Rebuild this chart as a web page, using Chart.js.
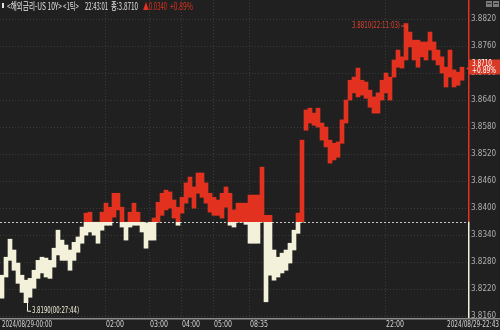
<!DOCTYPE html>
<html lang="ko">
<head>
  <meta charset="UTF-8" />
  <title>US 10Y tick chart</title>
  <script src="https://cdn.jsdelivr.net/npm/chart.js"></script>
  <style>
    body { margin: 0; background: #202020; }
    canvas { display: block; }
  </style>
</head>
<body>
  <canvas id="tickChart" width="500" height="330"></canvas>

  <script>
    // previous close (baseline) and last price
    const prevClose = 3.8370;
    const lastPrice = 3.8710;

    // high / low of each 4px tick bucket
    const highs = [
      3.8251, 3.8291, 3.8331, 3.8307, 3.8278, 3.8251, 3.8240, 3.8244, 3.8262, 3.8284,
      3.8291, 3.8289, 3.8284, 3.8311, 3.8351, 3.8329, 3.8318, 3.8307, 3.8324, 3.8336,
      3.8358, 3.8389, 3.8391, 3.8369, 3.8369, 3.8391, 3.8411, 3.8402, 3.8433, 3.8433,
      3.8402, 3.8369, 3.8391, 3.8411, 3.8391, 3.8369, 3.8367, 3.8369, 3.8378, 3.8413,
      3.8433, 3.8440, 3.8436, 3.8418, 3.8402, 3.8424, 3.8456, 3.8469, 3.8447, 3.8478,
      3.8478, 3.8456, 3.8433, 3.8424, 3.8418, 3.8433, 3.8447, 3.8433, 3.8396, 3.8411,
      3.8411, 3.8411, 3.8429, 3.8429, 3.8429, 3.8491, 3.8384, 3.8384, 3.8307, 3.8291,
      3.8300, 3.8307, 3.8322, 3.8351, 3.8389, 3.8551, 3.8618, 3.8622, 3.8611, 3.8622,
      3.8589, 3.8580, 3.8551, 3.8544, 3.8547, 3.8596, 3.8640, 3.8684, 3.8691, 3.8711,
      3.8684, 3.8680, 3.8662, 3.8647, 3.8656, 3.8684, 3.8700, 3.8691, 3.8729, 3.8751,
      3.8736, 3.8810, 3.8791, 3.8773, 3.8773, 3.8769, 3.8769, 3.8791, 3.8769, 3.8751,
      3.8736, 3.8713, 3.8751, 3.8707, 3.8702, 3.8713, null
    ];
    const lows = [
      3.8200, 3.8247, 3.8284, 3.8262, 3.8233, 3.8213, 3.8190, 3.8202, 3.8222, 3.8244,
      3.8256, 3.8247, 3.8244, 3.8269, 3.8296, 3.8284, 3.8284, 3.8262, 3.8284, 3.8302,
      3.8322, 3.8340, 3.8347, 3.8340, 3.8322, 3.8351, 3.8362, 3.8362, 3.8380, 3.8396,
      3.8358, 3.8329, 3.8358, 3.8362, 3.8362, 3.8347, 3.8311, 3.8329, 3.8329, 3.8369,
      3.8384, 3.8396, 3.8400, 3.8378, 3.8362, 3.8389, 3.8411, 3.8424, 3.8400, 3.8433,
      3.8424, 3.8411, 3.8391, 3.8384, 3.8384, 3.8378, 3.8402, 3.8362, 3.8358, 3.8369,
      3.8369, 3.8364, 3.8322, 3.8322, 3.8322, 3.8369, 3.8192, 3.8251, 3.8240, 3.8247,
      3.8256, 3.8262, 3.8278, 3.8307, 3.8344, 3.8369, 3.8573, 3.8589, 3.8584, 3.8580,
      3.8551, 3.8536, 3.8500, 3.8507, 3.8513, 3.8544, 3.8589, 3.8640, 3.8656, 3.8647,
      3.8651, 3.8644, 3.8624, 3.8611, 3.8611, 3.8640, 3.8656, 3.8640, 3.8691, 3.8713,
      3.8711, 3.8729, 3.8758, 3.8729, 3.8713, 3.8736, 3.8729, 3.8751, 3.8729, 3.8718,
      3.8700, 3.8669, 3.8691, 3.8669, 3.8673, 3.8684, null
    ];

    const yTicks = [3.8160, 3.8220, 3.8280, 3.8340, 3.8400, 3.8460, 3.8520,
                    3.8580, 3.8640, 3.8700, 3.8760, 3.8820];

    // time labels sit on the bucket where they start
    const timeIdx = [0, 26, 37, 45, 53, 62, 96];
    const timeText = ['2024/08/29-00:00', '02:00', '03:00', '04:00', '05:00', '08:35', '22:00'];
    const endText = '2024/08/29-22:43';

    const maxText = '3.8810(22:11:03)';
    const minText = '3.8190(00:27:44)';

    const RED = '#e2321f';
    const CREAM = '#f4f1da';
    const GRID = '#3a3a3a';
    const NARROW = '"Liberation Sans Narrow", "DejaVu Sans Condensed", sans-serif';

    let gradCache = null;
    function splitColor(ctx) {
      const chart = ctx.chart;
      const area = chart.chartArea;
      if (!area) return RED;
      const key = area.top + ':' + area.bottom;
      if (gradCache && gradCache.key === key) return gradCache.g;
      const yb = chart.scales.y.getPixelForValue(prevClose);
      const t = (yb - area.top) / (area.bottom - area.top);
      const g = chart.ctx.createLinearGradient(0, area.top, 0, area.bottom);
      g.addColorStop(0, RED);
      g.addColorStop(t, RED);
      g.addColorStop(t, CREAM);
      g.addColorStop(1, CREAM);
      gradCache = { key, g };
      return g;
    }

    const framePlugin = {
      id: 'frame',
      beforeDatasetsDraw(chart) {
        const { ctx, chartArea: a, scales: { x, y } } = chart;
        const colW = x.getPixelForValue(1) - x.getPixelForValue(0);
        ctx.save();
        ctx.lineWidth = 1;
        ctx.strokeStyle = GRID;
        ctx.setLineDash([1, 2]);
        yTicks.forEach(v => {
          const py = Math.round(y.getPixelForValue(v)) + 0.5;
          ctx.beginPath(); ctx.moveTo(a.left, py); ctx.lineTo(a.right, py); ctx.stroke();
        });
        timeIdx.slice(1).forEach(i => {
          const px = Math.round(x.getPixelForValue(i) - colW / 2) + 1.5;
          ctx.beginPath(); ctx.moveTo(px, a.top - 10); ctx.lineTo(px, a.bottom); ctx.stroke();
        });
        // previous close line
        ctx.strokeStyle = '#c8c8c8';
        ctx.setLineDash([2, 2]);
        const by = Math.round(y.getPixelForValue(prevClose)) + 0.5;
        ctx.beginPath(); ctx.moveTo(a.left, by); ctx.lineTo(a.right, by); ctx.stroke();
        ctx.restore();
      },
      afterDraw(chart) {
        const { ctx, chartArea: a, scales: { x, y } } = chart;
        const colW = x.getPixelForValue(1) - x.getPixelForValue(0);
        const by = y.getPixelForValue(prevClose);
        ctx.save();

        // right axis line, red above the close, cream below
        ctx.fillStyle = RED;
        ctx.fillRect(a.right, 0, 1.5, by);
        ctx.fillStyle = CREAM;
        ctx.fillRect(a.right, by, 1.5, a.bottom - by);

        // bottom axis
        ctx.fillStyle = '#8c8c8c';
        ctx.fillRect(0, a.bottom, chart.width, 1.5);

        // time labels
        ctx.font = '8px ' + NARROW;
        ctx.fillStyle = '#d4d4d4';
        ctx.textBaseline = 'top';
        ctx.textAlign = 'left';
        timeIdx.forEach((i, k) => {
          const px = x.getPixelForValue(i) - colW / 2 + 1;
          ctx.fillText(timeText[k], px + 1, a.bottom + 3, k === 0 ? 50 : 18);
        });
        ctx.textAlign = 'right';
        ctx.fillText(endText, chart.width - 1, a.bottom + 3, 52);

        // title line
        ctx.textBaseline = 'middle';
        ctx.textAlign = 'left';
        ctx.font = '10px "Noto Sans CJK KR", sans-serif';
        ctx.fillStyle = '#e2e2e2';
        ctx.fillRect(2, 3, 2, 5);
        ctx.fillText('<해외금리-US 10Y>', 7, 6, 55);
        ctx.fillText('<1틱>', 63, 6, 16);
        ctx.fillText('22:43:01', 85, 6, 23);
        ctx.fillText('종:3.8710', 111, 6, 27);
        ctx.fillStyle = RED;
        ctx.fillText('▲0.0340', 143, 6, 24);
        ctx.fillText('+0.89%', 170, 6, 23);

        // small buttons top right
        ctx.fillStyle = '#7a7a7a';
        ctx.fillRect(486, 1, 6, 6);
        ctx.fillRect(493, 1, 6, 6);
        ctx.fillStyle = '#2a2a2a';
        ctx.fillRect(487, 3, 4, 1);
        ctx.fillRect(494, 3, 4, 1);

        // max marker
        let hi = 0, lo = 0;
        highs.forEach((v, i) => { if (v !== null && v > highs[hi]) hi = i; });
        lows.forEach((v, i) => { if (v !== null && v < lows[lo]) lo = i; });
        const mx = x.getPixelForValue(hi) + 1;
        const my = y.getPixelForValue(highs[hi]) + 2;
        ctx.strokeStyle = '#d8432f';
        ctx.lineWidth = 1;
        ctx.beginPath();
        ctx.moveTo(mx - 6, my + 0.5); ctx.lineTo(mx + 0.5, my + 0.5); ctx.lineTo(mx + 0.5, my + 5);
        ctx.stroke();
        ctx.fillStyle = '#d8432f';
        ctx.font = '8px ' + NARROW;
        ctx.textAlign = 'right';
        ctx.fillText(maxText, mx - 7, my, 48);

        // min marker
        const nx = x.getPixelForValue(lo) + 1;
        const ny = y.getPixelForValue(lows[lo]);
        ctx.strokeStyle = CREAM;
        ctx.beginPath();
        ctx.moveTo(nx + 0.5, ny); ctx.lineTo(nx + 0.5, ny + 8.5); ctx.lineTo(nx + 4, ny + 8.5);
        ctx.stroke();
        ctx.fillStyle = CREAM;
        ctx.textAlign = 'left';
        ctx.fillText(minText, nx + 5, ny + 8.5, 47);

        // last price tag
        const py = y.getPixelForValue(lastPrice);
        const top = py - 9, bot = py + 6;
        ctx.fillStyle = '#d83a28';
        ctx.beginPath();
        ctx.moveTo(a.right + 1, top);
        ctx.lineTo(chart.width, top);
        ctx.lineTo(chart.width, bot);
        ctx.lineTo(a.right + 1, bot);
        ctx.lineTo(a.right + 1, py + 2);
        ctx.lineTo(a.right - 2, py);
        ctx.lineTo(a.right + 1, py - 2);
        ctx.closePath();
        ctx.fill();
        ctx.fillStyle = '#ffffff';
        ctx.fillText(lastPrice.toFixed(4), a.right + 4, top + 4.5, 20);
        ctx.fillText('+0.89%', a.right + 4, top + 11.5, 24);

        ctx.restore();
      }
    };

    new Chart(document.getElementById('tickChart'), {
      type: 'bar',
      data: {
        labels: highs.map((_, i) => String(i)),
        datasets: [{
          data: highs.map((h, i) => h === null ? null : [lows[i], h]),
          backgroundColor: splitColor,
          borderWidth: 0,
          barPercentage: 1,
          categoryPercentage: 1
        }]
      },
      options: {
        responsive: false,
        animation: false,
        devicePixelRatio: 1,
        layout: { padding: { top: 10, left: 0, right: 0, bottom: 0 } },
        plugins: { legend: { display: false }, tooltip: { enabled: false } },
        scales: {
          x: {
            grid: { display: false, drawTicks: false },
            border: { display: false },
            ticks: { display: false },
            afterFit: s => { s.height = 12; }
          },
          y: {
            position: 'right',
            min: 3.8156,
            max: 3.8840,
            grid: { display: false, drawTicks: false },
            border: { display: false },
            afterBuildTicks: s => { s.ticks = yTicks.map(v => ({ value: v })); },
            afterFit: s => { s.width = 32; },
            ticks: {
              padding: 3,
              color: '#b0b0b0',
              font: { size: 8, family: NARROW },
              callback: v => Number(v).toFixed(4)
            }
          }
        }
      },
      plugins: [framePlugin]
    });
  </script>
</body>
</html>
